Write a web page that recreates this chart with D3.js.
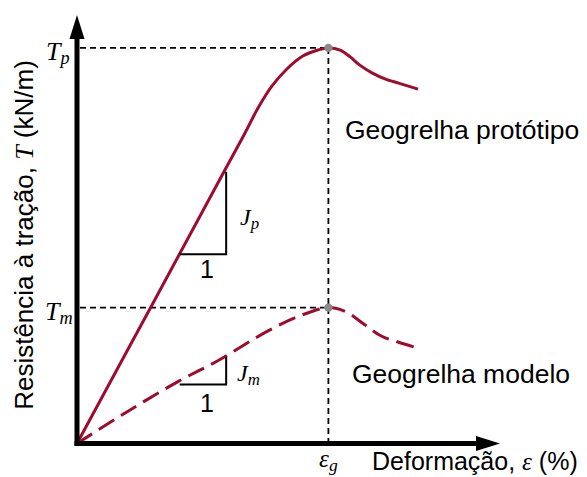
<!DOCTYPE html>
<html><head><meta charset="utf-8">
<script src="https://cdn.jsdelivr.net/npm/d3@7"></script>
<style>body{margin:0;background:#fff}svg{display:block}</style>
</head><body>
<svg id="c" width="587" height="477"></svg>
<script>
// ---- data (schematic units) ----
const protoX = [0, 1.8, 3.53, 4.01, 4.32, 4.65, 5.01, 5.39, 5.75, 6.0, 6.28, 6.52, 6.75, 7.04, 7.35, 7.71, 8.14];
const protoT = [0, 3.24, 6.36, 7.22, 7.80, 8.31, 8.71, 9.01, 9.15, 9.2, 9.15, 8.99, 8.80, 8.62, 8.48, 8.37, 8.24];
const modelX = [0, 1.2, 2.41, 3.37, 4.56, 5.35, 6.0, 6.40, 6.87, 7.26, 7.66, 8.09];
const modelT = [0, 0.74, 1.44, 1.93, 2.62, 2.98, 3.16, 3.07, 2.76, 2.50, 2.36, 2.23];
const peakStrain = 6.0;       // ε_g
const peakProto = 9.2;        // T_p
const peakModel = 3.16;       // T_m
const jpTri = [2.45, 3.56, 4.40, 6.32];  // x0, x1, T0, T1
const jmTri = [2.45, 3.56, 1.37, 2.02];
const seriesNames = ["Geogrelha protótipo", "Geogrelha modelo"];

const svg = d3.select("#c");
const x = d3.scaleLinear().domain([0, 10]).range([77, 496]);
const y = d3.scaleLinear().domain([0, 10]).range([443.5, 13.5]);
const red = "#9E0B2E";
const sans = "'Liberation Sans', Arial, sans-serif";
const serif = "'Liberation Serif', 'Times New Roman', serif";

const line = d3.line().x(d => x(d[0])).y(d => y(d[1])).curve(d3.curveCatmullRom.alpha(0.5));
const proto = protoX.map((v, i) => [v, protoT[i]]);
const model = modelX.map((v, i) => [v, modelT[i]]);

// reference dashed lines
const ref = svg.append("g").attr("stroke", "#000").attr("stroke-width", 1.8)
  .attr("stroke-dasharray", "6,4").attr("fill", "none");
ref.append("line").attr("x1", x(0) + 3).attr("x2", x(peakStrain)).attr("y1", y(peakProto)).attr("y2", y(peakProto));
ref.append("line").attr("x1", x(0) + 3).attr("x2", x(peakStrain)).attr("y1", y(peakModel)).attr("y2", y(peakModel));
ref.append("line").attr("x1", x(peakStrain)).attr("x2", x(peakStrain)).attr("y1", y(peakProto)).attr("y2", y(0) - 2);

// curves
svg.append("path").attr("d", line(proto)).attr("fill", "none").attr("stroke", red).attr("stroke-width", 3);
svg.append("path").attr("d", line(model)).attr("fill", "none").attr("stroke", red).attr("stroke-width", 3)
  .attr("stroke-dasharray", "18,8");

// peak dots
svg.selectAll("circle.pk").data([peakProto, peakModel]).enter().append("circle")
  .attr("cx", x(peakStrain)).attr("cy", d => y(d)).attr("r", 4.2).attr("fill", "#8a8a8a");

// slope triangles
[jpTri, jmTri].forEach(t => {
  svg.append("path")
    .attr("d", `M${x(t[0])},${y(t[2])}H${x(t[1])}V${y(t[3])}`)
    .attr("fill", "none").attr("stroke", "#000").attr("stroke-width", 2);
});

// axes
const ax = svg.append("g");
ax.append("line").attr("x1", x(0)).attr("x2", x(0)).attr("y1", y(0) + 2.5).attr("y2", 38)
  .attr("stroke", "#000").attr("stroke-width", 5);
ax.append("line").attr("x1", x(0) - 2.5).attr("x2", 478).attr("y1", y(0)).attr("y2", y(0))
  .attr("stroke", "#000").attr("stroke-width", 5);
ax.append("path").attr("d", `M${x(0)},15L${x(0) - 7.5},39L${x(0) + 7.5},39Z`).attr("fill", "#000");
ax.append("path").attr("d", `M500,${y(0)}L476,${y(0) - 7.5}L476,${y(0) + 7.5}Z`).attr("fill", "#000");

// math labels
function mathLabel(px, py, main, sub, size, anchor) {
  const t = svg.append("text").attr("x", px).attr("y", py).attr("font-family", serif)
    .attr("font-style", "italic").attr("font-size", size).attr("text-anchor", anchor || "start");
  t.append("tspan").text(main);
  t.append("tspan").attr("font-size", size * 0.7).attr("dy", size * 0.15).text(sub);
  return t;
}
mathLabel(46, 60, "T", "p", 26);
mathLabel(45, 320, "T", "m", 26);
mathLabel(240, 225, "J", "p", 24);
mathLabel(237, 381, "J", "m", 24);
mathLabel(x(peakStrain), 467, "ε", "g", 25, "middle");

svg.append("text").attr("x", 207).attr("y", 278).attr("font-family", sans).attr("font-size", 25)
  .attr("text-anchor", "middle").text("1");
svg.append("text").attr("x", 207).attr("y", 412).attr("font-family", sans).attr("font-size", 25)
  .attr("text-anchor", "middle").text("1");

// series labels
svg.append("text").attr("x", 345).attr("y", 139).attr("font-family", sans).attr("font-size", 26.5).text(seriesNames[0]);
svg.append("text").attr("x", 352).attr("y", 383).attr("font-family", sans).attr("font-size", 26.5).text(seriesNames[1]);

// axis titles
const xt = svg.append("text").attr("x", 372).attr("y", 470).attr("font-family", sans).attr("font-size", 25);
xt.append("tspan").text("Deformação, ");
xt.append("tspan").attr("font-family", serif).attr("font-style", "italic").text("ε");
xt.append("tspan").text(" (%)");

const yt = svg.append("text").attr("transform", "translate(33,235) rotate(-90)")
  .attr("text-anchor", "middle").attr("font-family", sans).attr("font-size", 26);
yt.append("tspan").text("Resistência à tração, ");
yt.append("tspan").attr("font-family", serif).attr("font-style", "italic").text("T");
yt.append("tspan").text(" (kN/m)");
</script>
</body></html>
